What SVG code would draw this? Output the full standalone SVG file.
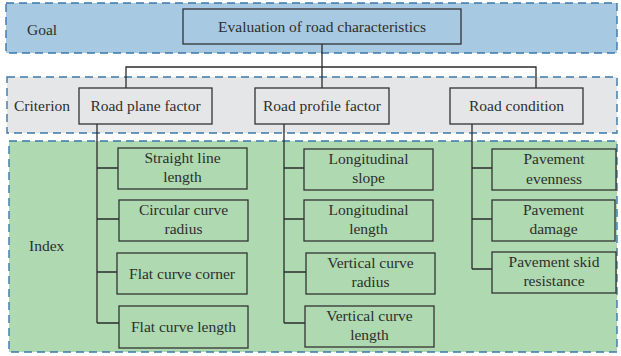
<svg xmlns="http://www.w3.org/2000/svg" width="621" height="356" viewBox="0 0 621 356">
<style>
.band{stroke:#3a78ab;stroke-width:1.4;stroke-dasharray:8 5}
.box{stroke:#333;stroke-width:1.3}
.lbl{font-family:'Liberation Serif',Tinos,'DejaVu Serif',serif;font-size:15.5px;fill:#2e2e2e}
.c{text-anchor:middle}
.conn{fill:none;stroke:#2b2b2b;stroke-width:1.3}
</style>
<rect width="621" height="356" fill="#ffffff"/>
<g id="bands">
<rect class="band" x="6" y="3" width="611" height="50" fill="#a7c9e2"/>
<rect class="band" x="7" y="77" width="610" height="56" fill="#e5e6e8"/>
<rect class="band" x="9" y="141" width="608" height="211" fill="#afd9b0"/>
<text class="lbl" x="27" y="35">Goal</text>
<text class="lbl" x="14" y="111">Criterion</text>
<text class="lbl" x="29" y="251">Index</text>
</g>
<g id="connectors">
<path class="conn" d="M322 44V67M126 88V67H536V88M322 67V88"/>
<path class="conn" d="M97 124V323M97 168H118M97 219H119M97 272H117M97 323H119"/>
<path class="conn" d="M284 124V323M284 168H304M284 219H304M284 272H306M284 323H305"/>
<path class="conn" d="M472 124V269M472 168H492M472 219H492M472 269H492"/>
</g>
<g id="goal">
<rect class="box" x="183" y="9" width="278" height="35" fill="#a7c9e2"/>
<text class="lbl c" x="322" y="31.5">Evaluation of road characteristics</text>
</g>
<g id="road-plane-factor">
<rect class="box" x="79" y="88" width="133" height="36" fill="#e5e6e8"/>
<text class="lbl c" x="145.5" y="111">Road plane factor</text>
</g>
<g id="road-profile-factor">
<rect class="box" x="255" y="88" width="134" height="36" fill="#e5e6e8"/>
<text class="lbl c" x="322" y="111">Road profile factor</text>
</g>
<g id="road-condition">
<rect class="box" x="450" y="88" width="133" height="36" fill="#e5e6e8"/>
<text class="lbl c" x="516.5" y="111">Road condition</text>
</g>
<g id="straight-line-length">
<rect class="box" x="118" y="148" width="129" height="41" fill="#afd9b0"/>
<text class="lbl c" x="182.5" y="163">Straight line</text>
<text class="lbl c" x="182.5" y="182">length</text>
</g>
<g id="circular-curve-radius">
<rect class="box" x="119" y="200" width="129" height="41" fill="#afd9b0"/>
<text class="lbl c" x="183.5" y="215">Circular curve</text>
<text class="lbl c" x="183.5" y="234">radius</text>
</g>
<g id="flat-curve-corner">
<rect class="box" x="117" y="253" width="130" height="41" fill="#afd9b0"/>
<text class="lbl c" x="182" y="278.5">Flat curve corner</text>
</g>
<g id="flat-curve-length">
<rect class="box" x="119" y="306" width="129" height="42" fill="#afd9b0"/>
<text class="lbl c" x="183.5" y="332">Flat curve length</text>
</g>
<g id="longitudinal-slope">
<rect class="box" x="304" y="149" width="129" height="41" fill="#afd9b0"/>
<text class="lbl c" x="368.5" y="164">Longitudinal</text>
<text class="lbl c" x="368.5" y="183">slope</text>
</g>
<g id="longitudinal-length">
<rect class="box" x="304" y="200" width="129" height="41" fill="#afd9b0"/>
<text class="lbl c" x="368.5" y="215">Longitudinal</text>
<text class="lbl c" x="368.5" y="234">length</text>
</g>
<g id="vertical-curve-radius">
<rect class="box" x="306" y="253" width="129" height="41" fill="#afd9b0"/>
<text class="lbl c" x="370.5" y="268">Vertical curve</text>
<text class="lbl c" x="370.5" y="287">radius</text>
</g>
<g id="vertical-curve-length">
<rect class="box" x="305" y="306" width="129" height="41" fill="#afd9b0"/>
<text class="lbl c" x="369.5" y="321">Vertical curve</text>
<text class="lbl c" x="369.5" y="340">length</text>
</g>
<g id="pavement-evenness">
<rect class="box" x="492" y="149" width="124" height="41" fill="#afd9b0"/>
<text class="lbl c" x="554" y="164">Pavement</text>
<text class="lbl c" x="554" y="184">evenness</text>
</g>
<g id="pavement-damage">
<rect class="box" x="492" y="200" width="123" height="41" fill="#afd9b0"/>
<text class="lbl c" x="553.5" y="215">Pavement</text>
<text class="lbl c" x="553.5" y="234">damage</text>
</g>
<g id="pavement-skid-resistance">
<rect class="box" x="492" y="252" width="124" height="41" fill="#afd9b0"/>
<text class="lbl c" x="554" y="267">Pavement skid</text>
<text class="lbl c" x="554" y="286">resistance</text>
</g>
</svg>
